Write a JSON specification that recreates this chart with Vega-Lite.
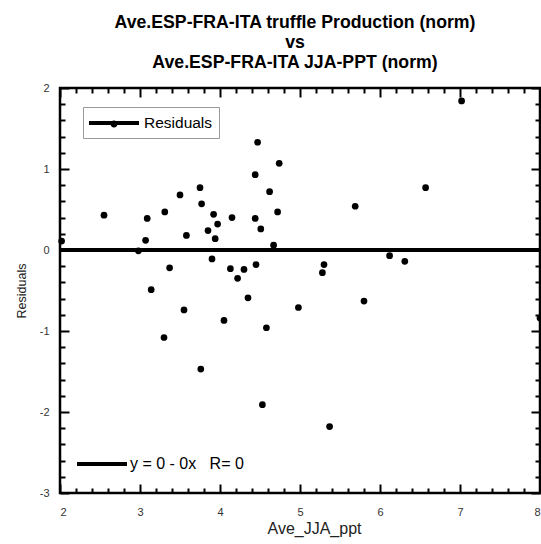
{
  "$schema": "https://vega.github.io/schema/vega-lite/v6.json",
  "width": 480,
  "height": 405,
  "autosize": "none",
  "padding": {"left": 60, "top": 88, "right": 1, "bottom": 51},
  "background": "white",
  "config": {
    "view": {"stroke": "black", "strokeWidth": 2.5},
    "font": "Liberation Sans",
    "axis": {"domain": false, "grid": false, "tickColor": "black", "tickWidth": 2, "labelColor": "#333", "labelFont": "Liberation Sans", "titleFont": "Liberation Sans", "titleFontWeight": "normal", "titleColor": "#222"}
  },
  "title": {
    "text": ["Ave.ESP-FRA-ITA truffle Production (norm)", "vs", "Ave.ESP-FRA-ITA JJA-PPT (norm)"],
    "font": "Liberation Sans",
    "fontSize": 17.7,
    "fontWeight": "bold",
    "lineHeight": 20,
    "anchor": "middle",
    "dx": -5,
    "offset": 10,
    "color": "black"
  },
  "datasets": {
    "resid": [
      {"x": 2.02, "y": 0.11}, {"x": 2.55, "y": 0.43}, {"x": 2.98, "y": -0.01}, {"x": 3.07, "y": 0.12},
      {"x": 3.09, "y": 0.39}, {"x": 3.14, "y": -0.49}, {"x": 3.30, "y": -1.08}, {"x": 3.31, "y": 0.47},
      {"x": 3.37, "y": -0.22}, {"x": 3.50, "y": 0.68}, {"x": 3.55, "y": -0.74}, {"x": 3.58, "y": 0.18},
      {"x": 3.75, "y": 0.77}, {"x": 3.76, "y": -1.47}, {"x": 3.77, "y": 0.57}, {"x": 3.85, "y": 0.24},
      {"x": 3.90, "y": -0.11}, {"x": 3.92, "y": 0.44}, {"x": 3.94, "y": 0.14}, {"x": 3.97, "y": 0.32},
      {"x": 4.05, "y": -0.87}, {"x": 4.13, "y": -0.23}, {"x": 4.15, "y": 0.40}, {"x": 4.22, "y": -0.35},
      {"x": 4.30, "y": -0.24}, {"x": 4.35, "y": -0.59}, {"x": 4.44, "y": 0.93}, {"x": 4.44, "y": 0.39},
      {"x": 4.45, "y": -0.18}, {"x": 4.47, "y": 1.33}, {"x": 4.51, "y": 0.26}, {"x": 4.53, "y": -1.91},
      {"x": 4.58, "y": -0.96}, {"x": 4.62, "y": 0.72}, {"x": 4.67, "y": 0.06}, {"x": 4.72, "y": 0.47},
      {"x": 4.74, "y": 1.07}, {"x": 4.98, "y": -0.71}, {"x": 5.28, "y": -0.28}, {"x": 5.30, "y": -0.18},
      {"x": 5.37, "y": -2.18}, {"x": 5.69, "y": 0.54}, {"x": 5.80, "y": -0.63}, {"x": 6.12, "y": -0.07},
      {"x": 6.31, "y": -0.14}, {"x": 6.57, "y": 0.77}, {"x": 7.02, "y": 1.84}, {"x": 8.0, "y": -0.84}
    ],
    "fit": [{"label": "y = 0 - 0x\u00a0\u00a0\u00a0R= 0", "intercept": 0}]
  },
  "resolve": {"axis": {"x": "independent", "y": "independent"}},
  "layer": [
    {
      "data": {"name": "resid"},
      "mark": {"type": "point", "filled": true, "size": 45, "opacity": 1},
      "encoding": {
        "x": {"field": "x", "type": "quantitative", "scale": {"domain": [2, 8], "nice": false, "zero": false},
              "axis": {"orient": "bottom", "values": [2, 3, 4, 5, 6, 7, 8], "tickSize": -9, "labelPadding": 22, "labelFontSize": 11, "labelExpr": "datum.value + ''", "title": "Ave_JJA_ppt", "titleFontSize": 16, "titlePadding": 3, "titleX": 254}},
        "y": {"field": "y", "type": "quantitative", "scale": {"domain": [-3, 2], "nice": false, "zero": false},
              "axis": {"orient": "left", "values": [-3, -2, -1, 0, 1, 2], "tickSize": -9, "labelPadding": 20, "labelFontSize": 11, "labelExpr": "datum.value + ''", "title": "Residuals", "titleFontSize": 12.5, "titlePadding": 11}},
        "fill": {"datum": "Residuals", "type": "nominal", "scale": {"range": ["black"]},
                 "legend": {"orient": "none", "legendX": 23, "legendY": 19, "title": null, "strokeColor": "#999", "padding": 6,
                            "symbolType": "M-1,-0.2L4,-0.2L4,0.2L-1,0.2Z M1.85,0.1A0.35,0.35 0 1,1 1.15,0.1A0.35,0.35 0 1,1 1.85,0.1Z",
                            "symbolSize": 400, "symbolStrokeWidth": 0, "labelFontSize": 15.5, "labelColor": "black", "labelOffset": 35, "labelFont": "Liberation Sans"}}
      }
    },
    {
      "data": {"name": "fit"},
      "mark": {"type": "rule", "strokeWidth": 4},
      "encoding": {
        "y": {"field": "intercept", "type": "quantitative", "scale": {"domain": [-3, 2], "nice": false, "zero": false},
              "axis": {"orient": "right", "values": [-3, -2, -1, 0, 1, 2], "tickSize": -9, "labels": false, "title": null}},
        "stroke": {"field": "label", "type": "nominal", "scale": {"range": ["black"]},
                   "legend": {"orient": "none", "legendX": 15, "legendY": 364, "title": null, "padding": 0,
                              "symbolType": "M-1,0L4,0", "symbolSize": 400, "symbolStrokeWidth": 4,
                              "labelFontSize": 16, "labelColor": "black", "labelOffset": 31, "labelFont": "Liberation Sans"}}
      }
    },
    {
      "data": {"name": "resid"},
      "mark": {"type": "point", "opacity": 0},
      "encoding": {
        "x": {"field": "x", "type": "quantitative", "scale": {"domain": [2, 8], "nice": false, "zero": false},
              "axis": {"orient": "top", "values": [2, 3, 4, 5, 6, 7, 8], "tickSize": -9, "labels": false, "title": null}},
        "y": {"field": "y", "type": "quantitative", "scale": {"domain": [-3, 2], "nice": false, "zero": false},
              "axis": {"orient": "left", "values": [-2.8, -2.6, -2.4, -2.2, -1.8, -1.6, -1.4, -1.2, -0.8, -0.6, -0.4, -0.2, 0.2, 0.4, 0.6, 0.8, 1.2, 1.4, 1.6, 1.8], "tickSize": -5, "labels": false, "title": null}}
      }
    },
    {
      "data": {"name": "resid"},
      "mark": {"type": "point", "opacity": 0},
      "encoding": {
        "x": {"field": "x", "type": "quantitative", "scale": {"domain": [2, 8], "nice": false, "zero": false},
              "axis": {"orient": "bottom", "values": [2.2, 2.4, 2.6, 2.8, 3.2, 3.4, 3.6, 3.8, 4.2, 4.4, 4.6, 4.8, 5.2, 5.4, 5.6, 5.8, 6.2, 6.4, 6.6, 6.8, 7.2, 7.4, 7.6, 7.8], "tickSize": -5, "labels": false, "title": null}},
        "y": {"field": "y", "type": "quantitative", "scale": {"domain": [-3, 2], "nice": false, "zero": false},
              "axis": {"orient": "right", "values": [-2.8, -2.6, -2.4, -2.2, -1.8, -1.6, -1.4, -1.2, -0.8, -0.6, -0.4, -0.2, 0.2, 0.4, 0.6, 0.8, 1.2, 1.4, 1.6, 1.8], "tickSize": -5, "labels": false, "title": null}}
      }
    },
    {
      "data": {"name": "resid"},
      "mark": {"type": "point", "opacity": 0},
      "encoding": {
        "x": {"field": "x", "type": "quantitative", "scale": {"domain": [2, 8], "nice": false, "zero": false},
              "axis": {"orient": "top", "values": [2.2, 2.4, 2.6, 2.8, 3.2, 3.4, 3.6, 3.8, 4.2, 4.4, 4.6, 4.8, 5.2, 5.4, 5.6, 5.8, 6.2, 6.4, 6.6, 6.8, 7.2, 7.4, 7.6, 7.8], "tickSize": -5, "labels": false, "title": null}},
        "y": {"field": "y", "type": "quantitative", "scale": {"domain": [-3, 2], "nice": false, "zero": false}, "axis": null}
      }
    }
  ]
}
